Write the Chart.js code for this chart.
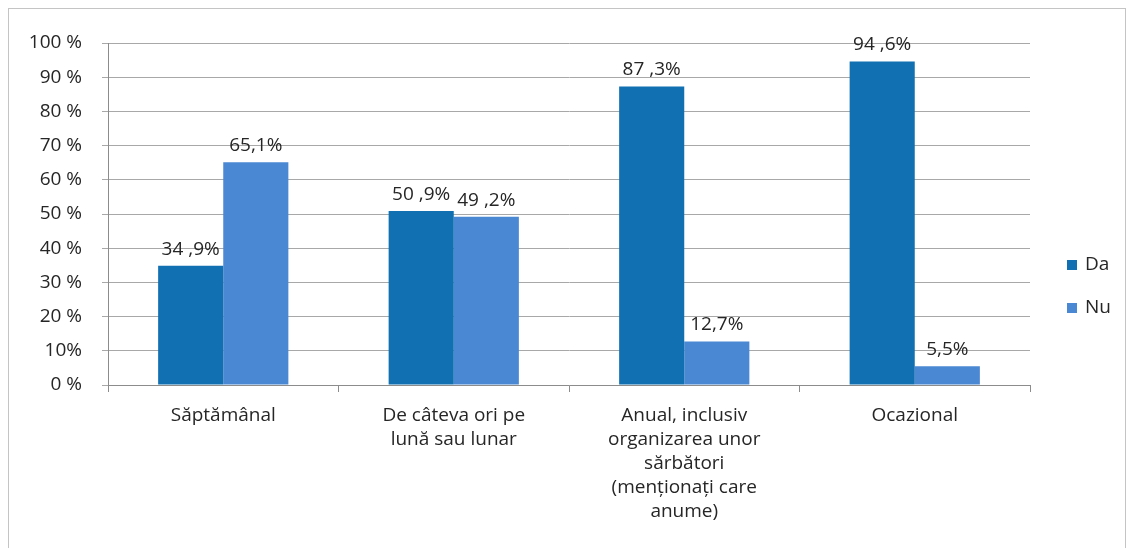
<!DOCTYPE html>
<html>
<head>
<meta charset="utf-8">
<script src="https://cdn.jsdelivr.net/npm/chart.js@4"></script>
<style>
  body { margin: 0; background: #fff; }
  #frame { position: absolute; left: 8px; top: 8px; width: 1116px; height: 600px; border: 1px solid #c4c4c4; }
  #wrap { position: absolute; left: 0; top: 0; width: 1131px; height: 548px; }
</style>
</head>
<body>
<div id="frame"></div>
<div id="wrap"><canvas id="chartCanvas"></canvas></div>
<script>
const categories = [
  ["Săptămânal"],
  ["De câteva ori pe", "lună sau lunar"],
  ["Anual, inclusiv", "organizarea unor", "sărbători", "(menționați care", "anume)"],
  ["Ocazional"],
];
const daValues = [34.9, 50.9, 87.3, 94.6];
const nuValues = [65.1, 49.2, 12.7, 5.5];
const daLabels = ["34 ,9%", "50 ,9%", "87 ,3%", "94 ,6%"];
const nuLabels = ["65,1%", "49 ,2%", "12,7%", "5,5%"];
const yTickLabels = ["0 %", "10%", "20 %", "30 %", "40 %", "50 %", "60 %", "70 %", "80 %", "90 %", "100 %"];

const fontFamily = "'Open Sans', Lato, sans-serif";
const textColor = "#262626";

const barValueLabels = {
  id: "barValueLabels",
  afterDatasetsDraw(chart) {
    const ctx = chart.ctx;
    ctx.save();
    ctx.font = "19px " + fontFamily;
    ctx.fillStyle = textColor;
    ctx.textAlign = "center";
    ctx.textBaseline = "bottom";
    chart.data.datasets.forEach((ds, i) => {
      chart.getDatasetMeta(i).data.forEach((bar, j) => {
        ctx.fillText(ds.valueLabels[j], bar.x, bar.y - 7);
      });
    });
    ctx.restore();
  },
};

const sideLegend = {
  id: "sideLegend",
  afterDraw(chart) {
    const ctx = chart.ctx;
    ctx.save();
    ctx.font = "19px " + fontFamily;
    ctx.textBaseline = "middle";
    chart.data.datasets.forEach((ds, i) => {
      const y = 265 + i * 43;
      ctx.fillStyle = ds.backgroundColor;
      ctx.fillRect(1067, y - 5, 10, 10);
      ctx.fillStyle = textColor;
      ctx.fillText(ds.label, 1085, y);
    });
    ctx.restore();
  },
};

new Chart(document.getElementById("chartCanvas").getContext("2d"), {
  type: "bar",
  data: {
    labels: categories,
    datasets: [
      { label: "Da", data: daValues, valueLabels: daLabels, backgroundColor: "#1170b1" },
      { label: "Nu", data: nuValues, valueLabels: nuLabels, backgroundColor: "#4a88d4" },
    ],
  },
  options: {
    responsive: true,
    maintainAspectRatio: false,
    animation: false,
    layout: { padding: { top: 43, right: 101, bottom: 0, left: 0 } },
    datasets: { bar: { categoryPercentage: 0.565, barPercentage: 1 } },
    scales: {
      x: {
        afterFit: (scale) => { scale.height = 163; },
        border: { color: "#8c8c8c" },
        grid: { drawOnChartArea: false, tickLength: 7, color: "#8c8c8c", offset: true },
        ticks: {
          color: textColor,
          font: { family: fontFamily, size: 19, lineHeight: 1.26 },
          padding: 12,
          maxRotation: 0,
          autoSkip: false,
        },
      },
      y: {
        min: 0,
        max: 100,
        afterFit: (scale) => { scale.width = 108; },
        border: { color: "#8c8c8c" },
        grid: { color: "#a8a8a8", tickLength: 6, lineWidth: 1 },
        ticks: {
          stepSize: 10,
          color: textColor,
          font: { family: fontFamily, size: 19 },
          padding: 20,
          callback: (v) => yTickLabels[Math.round(v / 10)],
        },
      },
    },
    plugins: {
      legend: { display: false },
      tooltip: { enabled: false },
    },
  },
  plugins: [barValueLabels, sideLegend],
});
</script>
</body>
</html>
